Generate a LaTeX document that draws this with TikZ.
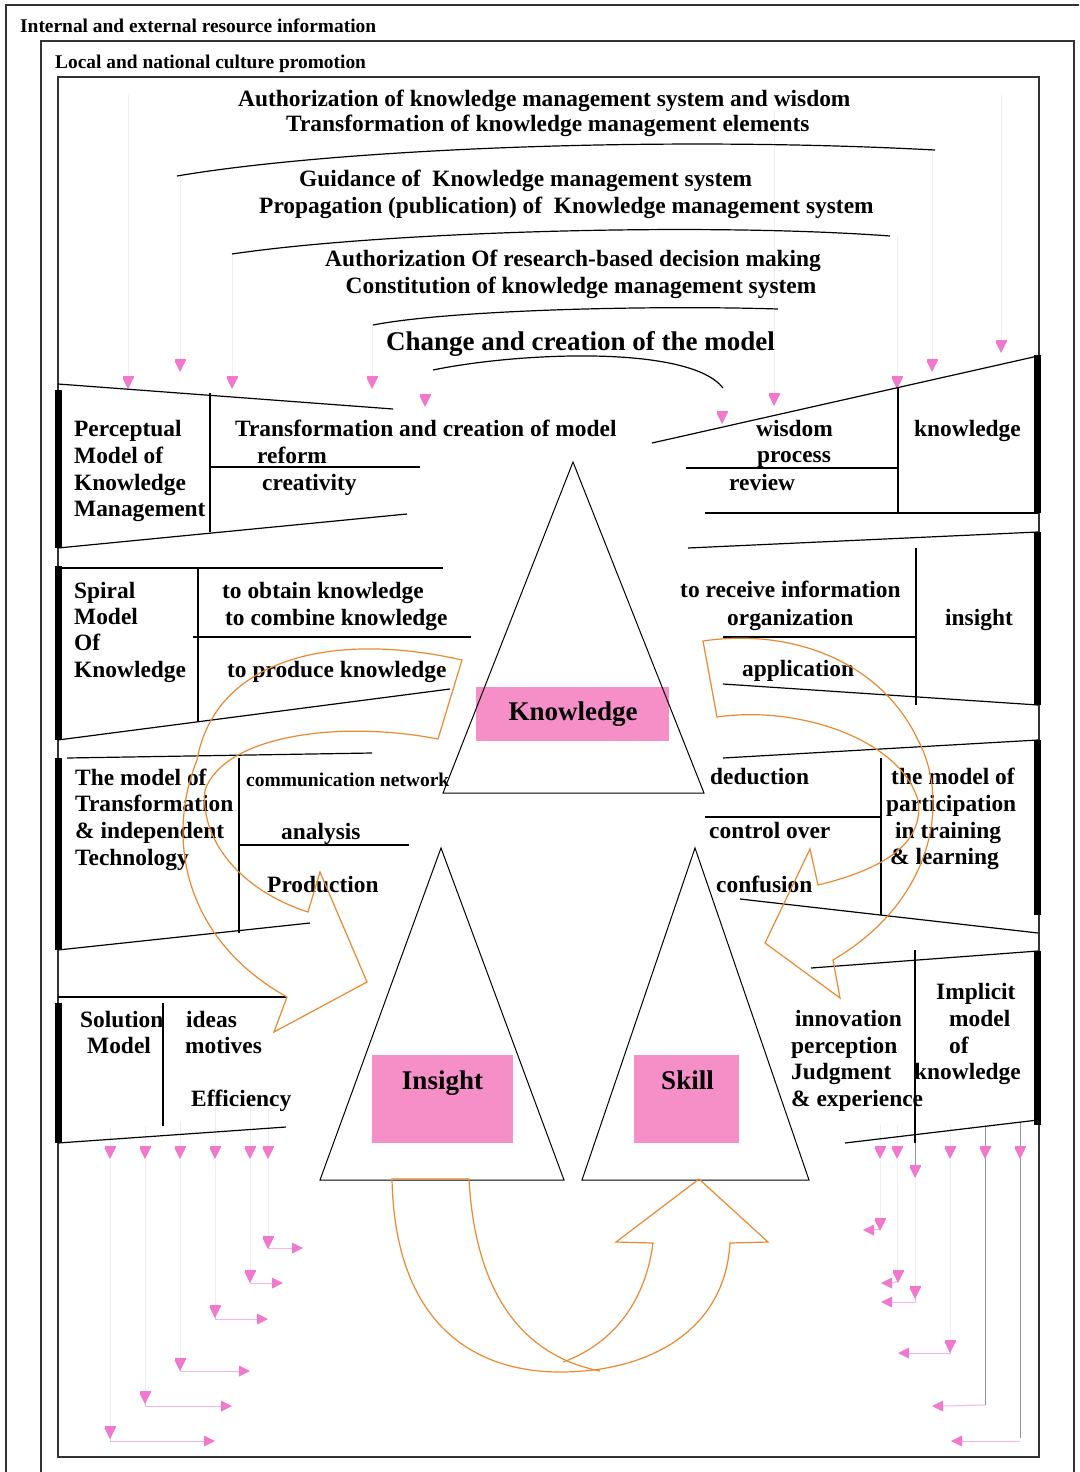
\documentclass[tikz,border=0pt]{standalone}
\usepackage{fontspec}
\setmainfont{Liberation Serif}
\definecolor{og}{RGB}{232,138,48}
\definecolor{pk}{RGB}{240,120,205}
\definecolor{bxp}{RGB}{246,142,200}
\definecolor{fnt}{RGB}{238,238,238}
\definecolor{gln}{RGB}{150,150,150}
\newcommand\fmain{\fontsize{23.4}{27}\selectfont\bfseries}
\newcommand\fsmall{\fontsize{19.4}{22}\selectfont\bfseries}
\newcommand\fbig{\fontsize{27}{32}\selectfont\bfseries}
\newcommand\fcomm{\fontsize{19.5}{23}\selectfont\bfseries}
\tikzset{
  ln/.style={line width=1.2pt, draw=black},
  fr/.style={line width=1.4pt, draw=black!80},
  bar/.style={line width=7pt, draw=black},
  t/.style={font=\fmain, inner sep=0pt, anchor=base west},
  tc/.style={font=\fbig, inner sep=0pt, anchor=base},
  ts/.style={font=\fsmall, inner sep=0pt, anchor=base west},
  orng/.style={draw=og, line width=1.2pt},
  faintl/.style={draw=fnt, line width=1pt},
  grayl/.style={draw=gln, line width=1pt},
  pkl/.style={draw=pk!55, line width=1pt},
  pd/.pic={\fill[pk] (-5.5,-7) rectangle (5.5,-5); \fill[pk] (-5.5,-5)--(5.5,-5)--(0,6)--cycle;},
  pr/.pic={\fill[pk] (-5,-5.5)--(-5,5.5)--(6,0)--cycle;},
  pl/.pic={\fill[pk] (5,-5.5)--(5,5.5)--(-6,0)--cycle;},
}
\begin{document}
\begin{tikzpicture}[x=1pt,y=-1pt]
\useasboundingbox (0,0) rectangle (1079,1472);
\clip (0,0) rectangle (1079,1472);
\fill[white] (0,0) rectangle (1079,1472);

% frames
\draw[fr] (6,5) rectangle (1100,1500);
\draw[fr] (41,41) rectangle (1074,1500);
\draw[fr] (58,77) rectangle (1039,1457);

% faint stems
\draw[faintl] (128,95)--(128,377) (180,176)--(180,360) (232,254)--(232,377) (372,325)--(372,377)
  (774,110)--(774,394) (897,236)--(897,377) (932,150)--(932,360) (1001,95)--(1001,341);
\draw[faintl] (110,1128)--(110,1147) (145,1126)--(145,1147) (180,1122)--(180,1147)
  (215,1095)--(215,1147) (250,1095)--(250,1147) (268,1095)--(268,1147);
\draw[faintl] (268,1160)--(268,1237) (250,1160)--(250,1271) (215,1160)--(215,1306)
  (180,1160)--(180,1359) (145,1160)--(145,1392) (110,1160)--(110,1427);
\draw[faintl] (880,1125)--(880,1147) (897,1125)--(897,1147) (950,1125)--(950,1147)
  (880,1160)--(880,1219) (897,1160)--(897,1271) (915,1178)--(915,1287) (950,1160)--(950,1341);
\draw[grayl] (915,1143)--(915,1166);
\draw[grayl] (985,1125)--(985,1405) (1020,1122)--(1020,1438);

% top titles
\node[ts] (ext) at (20,32.5) {Internal and external resource information};
\node[ts] (loc) at (55,68.3) {Local and national culture promotion};
\node[t] (h1) at (238,106) {Authorization of knowledge management system and wisdom};
\node[t] (h2) at (286,131.5) {Transformation of knowledge management elements};
\node[t] (h3) at (299,186.7) {Guidance of\ \ Knowledge management system};
\node[t] (h4) at (259,213.3) {Propagation (publication) of\ \ Knowledge management system};
\node[t] (h5) at (325,266.7) {Authorization Of research-based decision making};
\node[t] (h6) at (345.5,293.3) {Constitution of knowledge management system};
\node[t, font=\fbig] (h7) at (386,350) {Change and creation of the model};

% arcs
\draw[ln] (177,176) .. controls (330,150) and (650,135) .. (935,150);
\draw[ln] (232,254) .. controls (380,232) and (700,222) .. (890,236);
\draw[ln] (373,325) .. controls (450,310) and (650,305) .. (778,309);
\draw[ln] (433,370) .. controls (520,352) and (690,345) .. (723,388);

% top pink arrows
\foreach \x/\y in {128/383,180/366,232/383,372/383,425/401,722/418,774/400,897/383,932/366,1001/347}
  \pic at (\x,\y) {pd};

% ---------- left block 1
\draw[ln] (58,384)--(393,409);
\draw[ln] (210,393)--(210,532);
\draw[ln] (210,467)--(420,467);
\draw[ln] (58,548)--(407,514);
\draw[bar] (58,390)--(58,548);
\node[t] (p1) at (74,436.5) {Perceptual};
\node[t] (p2) at (74,463) {Model of};
\node[t] (p3) at (74,490) {Knowledge};
\node[t] (p4) at (74,516.5) {Management};
\node[t] (tcm) at (235,436.5) {Transformation and creation of model};
\node[t] (ref) at (257,463) {reform};
\node[t] (cre) at (262,490) {creativity};

% ---------- left block 2
\draw[ln] (58,568)--(443,568);
\draw[ln] (198,568)--(198,722);
\draw[ln] (193,637)--(471,637);
\draw[ln] (58,740)--(450,689);
\draw[bar] (58,566)--(58,740);
\node[t] (s1) at (74,598) {Spiral};
\node[t] (s2) at (74,624.5) {Model};
\node[t] (s3) at (74,650.5) {Of};
\node[t] (s4) at (74,677) {Knowledge};
\node[t] (obt) at (222,598) {to obtain knowledge};
\node[t] (com) at (225,625) {to combine knowledge};
\node[t] (pro) at (227,677) {to produce knowledge};

% ---------- left block 3
\draw[ln] (67,758)--(372,753);
\draw[ln] (239,758)--(239,933);
\draw[ln] (239,845)--(409,845);
\draw[ln] (58,950)--(310,923);
\draw[bar] (58,758)--(58,950);
\node[t] (m1) at (75,785) {The model of};
\node[t] (m2) at (75,811.5) {Transformation};
\node[t] (m3) at (75,838.5) {\& independent};
\node[t] (m4) at (75,865) {Technology};
\node[t, font=\fcomm] (cn) at (246,786) {communication network};
\node[t] (ana) at (281,839) {analysis};
\node[t] (prd) at (267,892.5) {Production};

% ---------- left block 4
\draw[ln] (58,997)--(286,997);
\draw[ln] (163,1003)--(163,1126);
\draw[ln] (58,1143)--(286,1127);
\draw[bar] (58,1003)--(58,1143);
\node[t] (so1) at (80,1027.3) {Solution};
\node[t] (so2) at (87,1053.3) {Model};
\node[t] (ide) at (186,1027.3) {ideas};
\node[t] (mot) at (185,1053.3) {motives};
\node[t] (eff) at (191,1106.7) {Efficiency};

% ---------- right block 1
\draw[ln] (652,443)--(1038,356);
\draw[ln] (898,388)--(898,513);
\draw[ln] (686,468)--(898,468);
\draw[ln] (705,513)--(1038,513);
\draw[bar] (1037,355)--(1037,513);
\node[t] (wis) at (756,436.7) {wisdom};
\node[t] (prc) at (757,462) {process};
\node[t] (rev) at (729,490) {review};
\node[t] (kno) at (914,436.7) {knowledge};

% ---------- right block 2
\draw[ln] (688,548)--(1038,532);
\draw[ln] (916,548)--(916,705);
\draw[ln] (723,637)--(916,637);
\draw[ln] (723,684)--(1038,705);
\draw[bar] (1037,532)--(1037,705);
\node[t] (rcv) at (680,597.7) {to receive information};
\node[t] (org) at (727,625) {organization};
\node[t] (app) at (742,676) {application};
\node[t] (insr) at (945,625) {insight};

% ---------- right block 3
\draw[ln] (723,758)--(1038,740);
\draw[ln] (881,758)--(881,915);
\draw[ln] (705,817)--(881,817);
\draw[ln] (740,899)--(1038,933);
\draw[bar] (1037,740)--(1037,915);
\node[t] (ded) at (710,784.3) {deduction};
\node[t] (con) at (709,838.3) {control over};
\node[t] (cnf) at (716,892.3) {confusion};
\node[t] (q1) at (891,784.3) {the model of};
\node[t] (q2) at (886,811) {participation};
\node[t] (q3) at (895,838.3) {in training};
\node[t] (q4) at (890,864) {\& learning};

% ---------- right block 4
\draw[ln] (811,968)--(1038,951);
\draw[ln] (915,950)--(915,1143);
\draw[ln] (845,1143)--(1038,1120);
\draw[bar] (1037,951)--(1037,1125);
\node[t] (inn) at (795,1026.7) {innovation};
\node[t] (per) at (791,1053.3) {perception};
\node[t] (jud) at (791,1079) {Judgment};
\node[t] (exp) at (791,1106) {\& experience};
\node[t] (i1) at (936,999) {Implicit};
\node[t] (i2) at (949,1026.7) {model};
\node[t] (i3) at (949,1053.3) {of};
\node[t] (i4) at (914,1079) {knowledge};

% ---------- boxes and triangles
\fill[bxp] (476,687) rectangle (669,741);
\fill[bxp] (372,1055) rectangle (513,1143);
\fill[bxp] (634,1055) rectangle (739,1143);
\draw[ln, line width=1pt] (573,462)--(443,793)--(704,793)--cycle;
\draw[ln, line width=1pt] (441,848)--(320,1180)--(564,1180)--cycle;
\draw[ln, line width=1pt] (695,848)--(582,1180)--(809,1180)--cycle;
\node[tc] (kn) at (573,720) {Knowledge};
\node[tc] (ins) at (442.5,1089.3) {Insight};
\node[tc] (sk) at (687.5,1089) {Skill};

% ---------- bottom-left pink arrows
\foreach \x in {110,145,180,215,250,268} \pic at (\x,1153) {pd};
\foreach \dx/\dy/\rx/\ry in {268/1243/297/1248,250/1277/277/1283,215/1312/262/1319,180/1365/244/1371,145/1398/226/1406,110/1433/209/1441}{
  \draw[pkl] (\dx,\dy+4) |- (\rx-5,\ry);
  \pic at (\dx,\dy) {pd};
  \pic at (\rx,\ry) {pr};
}

% ---------- bottom-right pink arrows
\foreach \x in {880,897,950,985,1020} \pic at (\x,1153) {pd};
\pic at (915,1172) {pd};
\draw[pkl] (880,1229)--(874,1230);
\draw[pkl] (898,1281)--(892,1283);
\draw[pkl] (915,1297) |- (892,1302);
\draw[pkl] (950,1351) |- (909,1353);
\draw[pkl] (985,1405)--(943,1406);
\draw[pkl] (1020,1441)--(962,1441);
\foreach \x/\y in {880/1225,898/1277,915/1293,950/1347} \pic at (\x,\y) {pd};
\foreach \x/\y in {869/1230,887/1283,887/1302,904/1353,938/1406,957/1441} \pic at (\x,\y) {pl};

% ---------- orange arrows
\draw[orng] (462,660) .. controls (330,630) and (215,660) .. (197,760)
  .. controls (165,840) and (185,940) .. (287,997) -- (274,1032) -- (367,982) -- (320,872) -- (308,912)
  .. controls (240,890) and (200,840) .. (205,790) .. controls (225,735) and (340,720) .. (438,739) -- cycle;
\draw[orng] (703,641) .. controls (790,628) and (880,660) .. (918,740)
  .. controls (950,800) and (935,900) .. (833,960) -- (840,998) -- (765,943) -- (810,849) -- (818,885)
  .. controls (880,870) and (925,845) .. (918,800) .. controls (900,740) and (800,705) .. (717,717) -- cycle;
\draw[orng] (469,1179) -- (392,1179) .. controls (395,1330) and (480,1372) .. (560,1372)
  .. controls (650,1372) and (725,1330) .. (730,1243) -- (768,1242) -- (699,1179) -- (616,1242) -- (653,1243)
  .. controls (645,1305) and (610,1345) .. (563,1362);
\draw[orng] (469,1179) .. controls (475,1290) and (520,1355) .. (600,1371);
\end{tikzpicture}
\end{document}
